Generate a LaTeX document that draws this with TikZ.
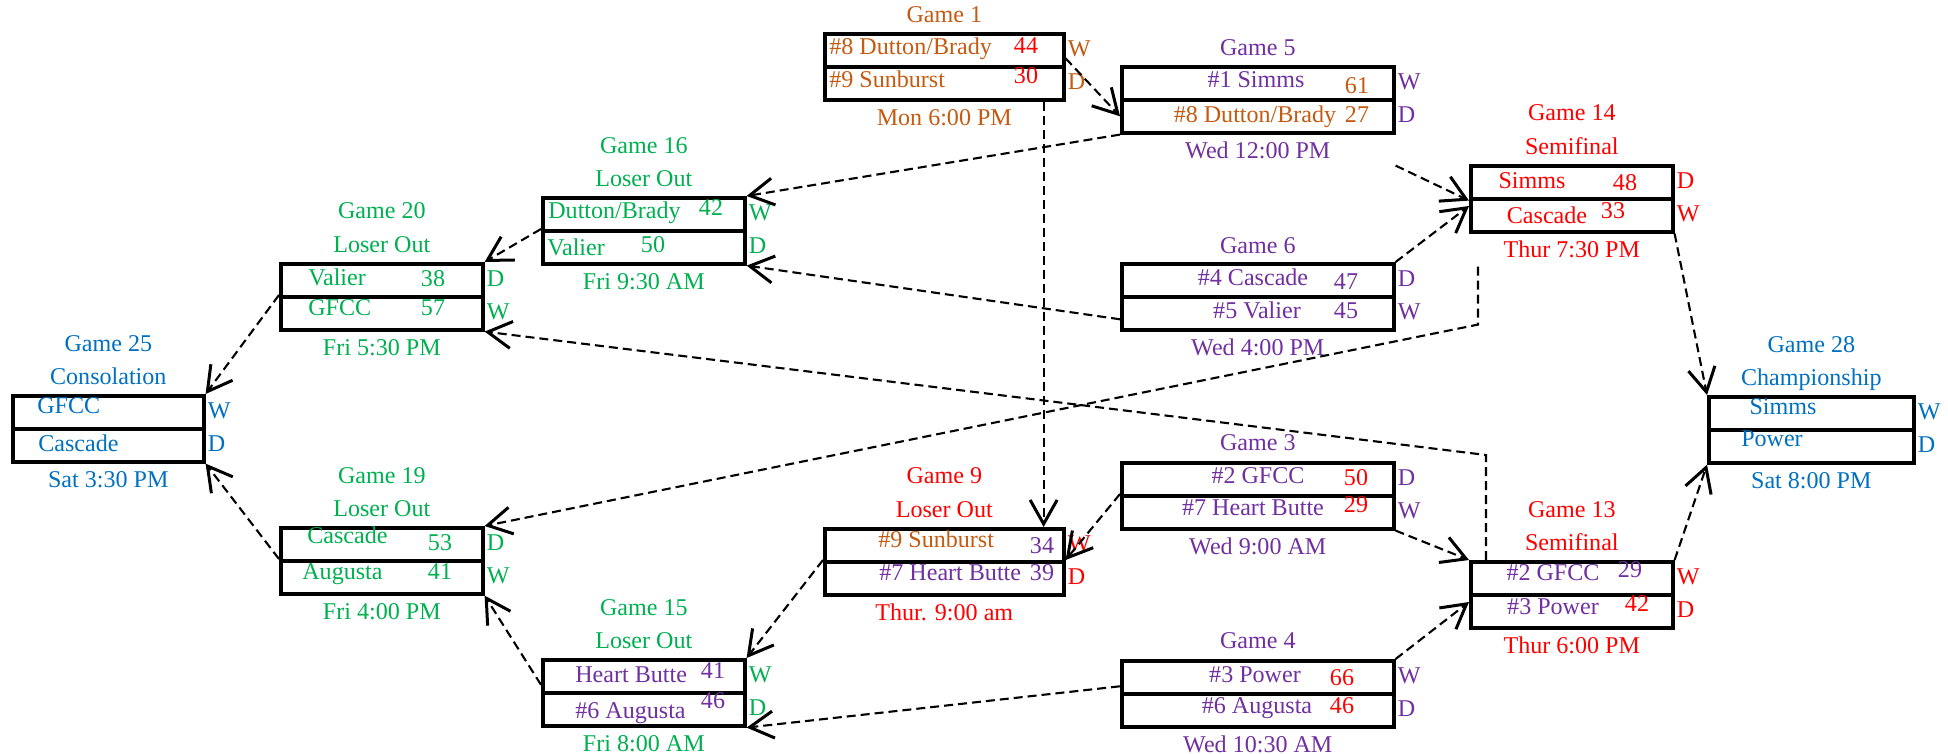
\documentclass[tikz,border=0pt]{standalone}
\usepackage{fontspec}
\setmainfont{Liberation Serif}
\usetikzlibrary{arrows.meta}
\definecolor{gorange}{RGB}{197,90,17}
\definecolor{gpurple}{RGB}{112,48,160}
\definecolor{ggreen}{RGB}{0,176,80}
\definecolor{gred}{RGB}{255,0,0}
\definecolor{gblue}{RGB}{0,112,192}
\begin{document}
\begin{tikzpicture}[>={Straight Barb[length=.48cm,width=.54cm,line width=.06cm]}, x=.02cm, y=-.02cm,
    every node/.style={inner sep=0, text height=.9em, text depth=.24em, font=\fontsize{13.7}{16}\selectfont},
    row/.style={draw, line width=.072cm, anchor=north west, minimum height=.66cm, minimum width=#1*.02cm},
    conn/.style={->, line width=.042cm, dash pattern=on .18cm off .1cm}]
\useasboundingbox (0,0) rectangle (1948,754);

\foreach \g/\x/\y/\w/\c/\ra/\rb/\day in {1/823/32/239/gorange/W/D/Mon 6:00 PM, 5/1120/65/272/gpurple/W/D/Wed 12:00 PM,
    14/1469/164/202/gred/D/W/Thur 7:30 PM, 6/1120/262/272/gpurple/D/W/Wed 4:00 PM, 16/541/196/202/ggreen/W/D/Fri 9:30 AM,
    20/279/262/202/ggreen/D/W/Fri 5:30 PM, 25/11/394/191/gblue/W/D/Sat 3:30 PM, 19/279/526/202/ggreen/D/W/Fri 4:00 PM,
    15/541/658/202/ggreen/W/D/Fri 8:00 AM, 9/823/527/239/gred/W/D/Thur. 9:00 am, 3/1120/461/272/gpurple/D/W/Wed 9:00 AM,
    13/1469/560/202/gred/W/D/Thur 6:00 PM, 4/1120/659/272/gpurple/W/D/Wed 10:30 AM, 28/1707/395/205/gblue/W/D/Sat 8:00 PM}{
  \node[row=\w] (g\g a) at (\x,\y) {};
  \node[row=\w] (g\g b) at (\x,\y+33) {};
  \node[text=\c, anchor=west] (w\g a) at ([xshift=.04cm]g\g a.east) {\ra};
  \node[text=\c, anchor=west] (w\g b) at ([xshift=.04cm]g\g b.east) {\rb};
  \node[text=\c] (d\g) at ([yshift=-.36cm]g\g b.south) {\day};
}
\foreach \g/\c/\dy in {1/gorange/.3cm, 5/gpurple/.3cm, 14/gred/.98cm, 6/gpurple/.28cm, 16/ggreen/.96cm, 20/ggreen/.98cm,
    25/gblue/.96cm, 19/ggreen/.96cm, 15/ggreen/.96cm, 9/gred/.98cm, 3/gpurple/.32cm, 13/gred/.96cm, 4/gpurple/.32cm, 28/gblue/.96cm}
  \node[text=\c] (t\g) at ([yshift=\dy]g\g a.north) {Game \g};
\foreach \g/\c/\s in {14/gred/Semifinal, 16/ggreen/Loser Out, 20/ggreen/Loser Out, 25/gblue/Consolation,
    19/ggreen/Loser Out, 15/ggreen/Loser Out, 9/gred/Loser Out, 13/gred/Semifinal, 28/gblue/Championship}
  \node[text=\c] (u\g) at ([yshift=.31cm]g\g a.north) {\s};

\node[text=gorange, anchor=west] (n1a) at (829,49) {\#8 Dutton/Brady};
\node[text=gorange, anchor=west] (n1b) at (829,82) {\#9 Sunburst};
\node[text=gred] (s1a) at (1026,48) {44};
\node[text=gred] (s1b) at (1026,78) {30};

\node[text=gpurple] (n5a) at (1256,82) {\#1 Simms};
\node[text=gorange] (n5b) at (1255,117) {\#8 Dutton/Brady};
\node[text=gorange] (s5a) at (1357,88) {61};
\node[text=gorange] (s5b) at (1357,117) {27};

\node[text=gred] (n14a) at (1532,183) {Simms};
\node[text=gred] (n14b) at (1547,218) {Cascade};
\node[text=gred] (s14a) at (1625,185) {48};
\node[text=gred] (s14b) at (1613,213) {33};

\node[text=gpurple] (n6a) at (1253,280) {\#4 Cascade};
\node[text=gpurple] (n6b) at (1257,313) {\#5 Valier};
\node[text=gpurple] (s6a) at (1346,284) {47};
\node[text=gpurple] (s6b) at (1346,313) {45};

\node[text=ggreen, anchor=west] (n16a) at (548,213) {Dutton/Brady};
\node[text=ggreen, anchor=west] (n16b) at (547,250) {Valier};
\node[text=ggreen] (s16a) at (711,210) {42};
\node[text=ggreen] (s16b) at (653,247) {50};

\node[text=ggreen, anchor=west] (n20a) at (308,280) {Valier};
\node[text=ggreen, anchor=west] (n20b) at (308,310) {GFCC};
\node[text=ggreen] (s20a) at (433,281) {38};
\node[text=ggreen] (s20b) at (433,310) {57};

\node[text=gblue, anchor=west] (n25a) at (37,408) {GFCC};
\node[text=gblue, anchor=west] (n25b) at (38,446) {Cascade};

\node[text=ggreen, anchor=west] (n19a) at (307,538) {Cascade};
\node[text=ggreen, anchor=west] (n19b) at (302,574) {Augusta};
\node[text=ggreen] (s19a) at (440,545) {53};
\node[text=ggreen] (s19b) at (440,574) {41};

\node[text=gpurple, anchor=west] (n15a) at (575,677) {Heart Butte};
\node[text=gpurple, anchor=west] (n15b) at (575,713) {\#6 Augusta};
\node[text=gpurple] (s15a) at (713,673) {41};
\node[text=gpurple] (s15b) at (713,703) {46};

\node[text=gorange, anchor=west] (n9a) at (878,542) {\#9 Sunburst};
\node[text=gpurple, anchor=west] (n9b) at (879,575) {\#7 Heart Butte};
\node[text=gpurple] (s9a) at (1042,548) {34};
\node[text=gpurple] (s9b) at (1042,575) {39};

\node[text=gpurple] (n3a) at (1258,478) {\#2 GFCC};
\node[text=gpurple] (n3b) at (1253,510) {\#7 Heart Butte};
\node[text=gred] (s3a) at (1356,480) {50};
\node[text=gred] (s3b) at (1356,507) {29};

\node[text=gpurple] (n13a) at (1553,575) {\#2 GFCC};
\node[text=gpurple] (n13b) at (1553,609) {\#3 Power};
\node[text=gpurple] (s13a) at (1630,572) {29};
\node[text=gred] (s13b) at (1637,606) {42};

\node[text=gpurple] (n4a) at (1255,677) {\#3 Power};
\node[text=gpurple] (n4b) at (1257,708) {\#6 Augusta};
\node[text=gred] (s4a) at (1342,680) {66};
\node[text=gred] (s4b) at (1342,708) {46};

\node[text=gblue] (n28a) at (1783,409) {Simms};
\node[text=gblue] (n28b) at (1772,441) {Power};

\draw[conn] ([yshift=-.16cm]g1a.east) -- (g5b.west);
\draw[conn] ([xshift=-.44cm]g1b.south east) -- ([xshift=-.44cm]g9a.north east);
\draw[conn] (g5b.south west) -- (g16a.north east);
\draw[conn] ([yshift=-.62cm]g5b.south east) -- (g14a.south west);
\draw[conn] (g6a.north east) -- ([yshift=-.18cm]g14b.north west);
\draw[conn] ([yshift=-.12cm]g6b.west) -- (g16b.south east);
\draw[conn] ([xshift=.18cm,yshift=-.66cm]g14b.south west) -- ++(0,58) -- (g19a.north east);
\draw[conn] (g14b.south east) -- (g28a.north west);
\draw[conn] (g13a.north east) -- (g28b.south west);
\draw[conn] ([xshift=.34cm]g13a.north west) -- ++(0,-105) -- (g20b.south east);
\draw[conn] (g3b.south east) -- (g13a.north west);
\draw[conn] (g4a.north east) -- ([yshift=-.18cm]g13b.north west);
\draw[conn] (g3b.north west) -- (g9b.north east);
\draw[conn] (g9b.north west) -- (g15a.north east);
\draw[conn] ([yshift=-.18cm]g4a.west) -- (g15b.south east);
\draw[conn] ([yshift=-.17cm]g15a.west) -- (g19b.south east);
\draw[conn] (g19b.north west) -- (g25b.south east);
\draw[conn] (g20b.north west) -- (g25a.north east);
\draw[conn] (g16b.north west) -- (g20a.north east);

\end{tikzpicture}
\end{document}
